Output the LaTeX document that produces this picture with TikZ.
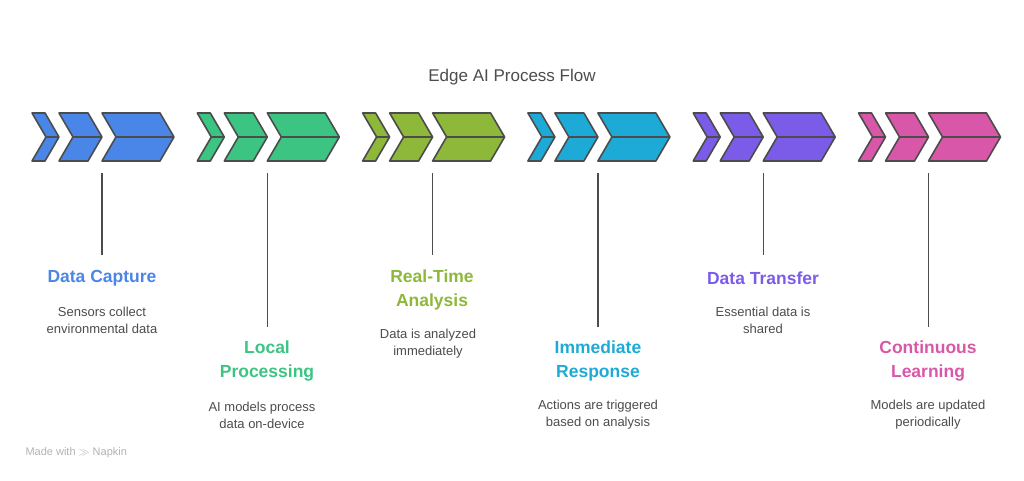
\documentclass[tikz,border=0pt]{standalone}
\usepackage{fontspec}
\setmainfont{Liberation Sans}
\begin{document}
\begin{tikzpicture}[x=1pt,y=-1pt,
  chev/.style={draw=black!70,line width=1.6pt,line join=round},
  ttl/.style={font=\fontsize{17.5}{24}\selectfont\bfseries,align=center},
  dsc/.style={font=\fontsize{13}{17}\selectfont,text=black!70,align=center},
  stem/.style={draw=black!70,line width=1.4pt}]
\useasboundingbox (0,0) rectangle (1024,480);
\definecolor{c1}{HTML}{4A86E8}\definecolor{c2}{HTML}{3CC483}
\definecolor{c3}{HTML}{8DB83A}\definecolor{c4}{HTML}{1EAAD6}
\definecolor{c5}{HTML}{7B5CE8}\definecolor{c6}{HTML}{D957A8}
\node[font=\fontsize{17}{20}\selectfont,text=black!70] (title) at (512,77) {Edge AI Process Flow};
\foreach \i/\c in {0/c1,1/c2,2/c3,3/c4,4/c5,5/c6}{
  \pgfmathsetmacro{\g}{32+165.3*\i}
  \foreach \o/\w in {0/13,27/29,70/58}{
    \pgfmathsetmacro{\a}{\g+\o}
    \draw[chev,fill=\c] (\a,113) -- ++(\w,0) -- ++(14,24) -- ++(-14,24) -- ++(-\w,0) -- ++(14,-24) -- cycle;
    \draw[chev] (\a+14,137) -- ++(\w,0);
  }
  \coordinate (s\i) at (\g+70,173);
}
\coordinate (e0) at (s0|-0,255);\coordinate (e1) at (s1|-0,327);
\coordinate (e2) at (s2|-0,255);\coordinate (e3) at (s3|-0,327);
\coordinate (e4) at (s4|-0,255);\coordinate (e5) at (s5|-0,327);
\foreach \i in {0,...,5}{\draw[stem] (s\i) -- (e\i);}
\node[ttl,text=c1] (t0) at (102,278) {Data Capture};
\node[dsc] (d0) at (102,320) {Sensors collect\\environmental data};
\node[ttl,text=c2] (t1) at (267,361) {Local\\Processing};
\node[dsc] (d1) at (262,415) {AI models process\\data on-device};
\node[ttl,text=c3] (t2) at (432,290) {Real-Time\\Analysis};
\node[dsc] (d2) at (428,344) {Data is analyzed\\immediately};
\node[ttl,text=c4] (t3) at (598,361) {Immediate\\Response};
\node[dsc] (d3) at (598,415) {Actions are triggered\\based on analysis};
\node[ttl,text=c5] (t4) at (763,278) {Data Transfer};
\node[dsc] (d4) at (763,320) {Essential data is\\shared};
\node[ttl,text=c6] (t5) at (928,361) {Continuous\\Learning};
\node[dsc] (d5) at (928,415) {Models are updated\\periodically};
\node[font=\fontsize{11}{13}\selectfont,text=black!30,anchor=west] (wm) at (22,453) {Made with \textbf{$\gg$} Napkin};
\end{tikzpicture}
\end{document}
